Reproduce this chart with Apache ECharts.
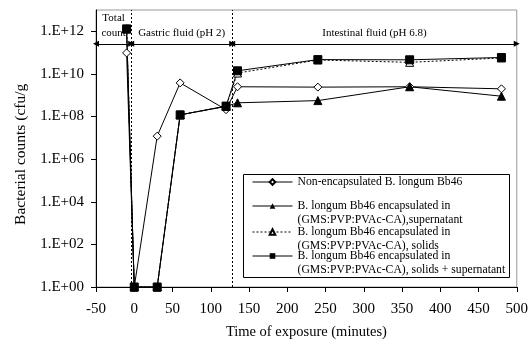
<!DOCTYPE html>
<html>
<head>
<meta charset="utf-8">
<script src="https://cdn.jsdelivr.net/npm/echarts@6/dist/echarts.min.js"></script>
<style>
html,body{margin:0;padding:0;background:#fff;}
#chart{width:531px;height:345px;}
</style>
</head>
<body>
<div id="chart"></div>
<script>
// time of exposure (minutes)
var times = [-10, 0, 30, 60, 120, 135, 240, 360, 480];
// bacterial counts (cfu/g)
var nonEncap    = [9.7e10, 1, 1.2e7, 3.8e9, 2.1e8, 2.5e9, 2.4e9, 2.5e9, 2.0e9];
var supernatant = [1.3e12, 1, 1, 1.2e8, 3.0e8, 4.4e8, 5.6e8, 2.5e9, 9.0e8];
var solids      = [1.3e12, 1, 1, 1.2e8, 3.0e8, 1.1e10, 4.5e10, 3.5e10, 5.6e10];
var solidsSuper = [1.3e12, 1, 1, 1.2e8, 3.1e8, 1.4e10, 4.7e10, 4.6e10, 5.9e10];

var seriesNames = [
  'Non-encapsulated B. longum Bb46',
  'B. longum Bb46 encapsulated in\n(GMS:PVP:PVAc-CA),supernatant',
  'B. longum Bb46 encapsulated in\n(GMS:PVP:PVAc-CA), solids',
  'B. longum Bb46 encapsulated in\n(GMS:PVP:PVAc-CA), solids + supernatant'
];
// y tick labels as powers of ten
var yTickExps = [0, 2, 4, 6, 8, 10, 12];
// phases of the experiment
var phaseBounds = [-50, -4, 128, 500];
var phaseLabels = ['Total\ncount', 'Gastric fluid (pH 2)', 'Intestinal fluid (pH 6.8)'];
var phaseArrowCount = 2.6e11;

var FONT = 'Liberation Serif';

function toLog(arr) {
  return arr.map(function (v, i) { return [times[i], Math.log10(v)]; });
}

var arrowY = Math.log10(phaseArrowCount);
var arrowData = [];
for (var i = 0; i < phaseLabels.length; i++) {
  arrowData.push([
    { name: phaseLabels[i], coord: [phaseBounds[i], arrowY] },
    { coord: [phaseBounds[i + 1], arrowY] }
  ]);
}

var lineStyle = { color: '#000', width: 1 };

var series = [
  {
    name: seriesNames[0], type: 'line', data: toLog(nonEncap),
    symbol: 'diamond', symbolSize: 8,
    itemStyle: { color: '#fff', borderColor: '#000', borderWidth: 1 },
    lineStyle: lineStyle,
    markLine: {
      silent: true, symbol: 'none',
      lineStyle: { color: '#000', width: 1, type: [2, 2] },
      label: { show: false },
      data: [{ xAxis: phaseBounds[1] }, { xAxis: phaseBounds[2] }]
    }
  },
  {
    name: seriesNames[1], type: 'line', data: toLog(supernatant),
    symbol: 'triangle', symbolSize: 8,
    itemStyle: { color: '#000', borderColor: '#000' },
    lineStyle: lineStyle,
    markLine: {
      silent: true, symbol: ['triangle', 'triangle'], symbolSize: 6,
      lineStyle: { color: '#000', width: 1, type: 'solid' },
      label: {
        show: true, position: 'middle', formatter: '{b}', distance: 3,
        color: '#000', fontFamily: FONT, fontSize: 11, lineHeight: 15
      },
      data: arrowData
    }
  },
  {
    name: seriesNames[2], type: 'line', data: toLog(solids),
    symbol: 'triangle', symbolSize: 8,
    itemStyle: { color: '#fff', borderColor: '#000', borderWidth: 1 },
    lineStyle: { color: '#000', width: 1, type: [2, 2] }
  },
  {
    name: seriesNames[3], type: 'line', data: toLog(solidsSuper),
    symbol: 'rect', symbolSize: 8,
    itemStyle: { color: '#000', borderColor: '#000' },
    lineStyle: lineStyle
  }
];

// one legend per entry so the rows can sit like the original box
var legendTops = [176, 186, 212, 236];
var legends = seriesNames.map(function (name, idx) {
  return {
    data: [name],
    left: 252, top: legendTops[idx], padding: 0,
    itemWidth: 40, itemHeight: 7,
    selectedMode: false,
    lineStyle: { width: 1 },
    // a blank first line keeps the icon level with the first text line
    formatter: function (n) {
      var parts = n.split('\n');
      if (parts.length > 1) parts.unshift(' ');
      return parts.map(function (p) { return '{t|' + p + '}'; }).join('\n');
    },
    textStyle: {
      color: '#000', fontFamily: FONT, fontSize: 11.7,
      rich: { t: { color: '#000', fontFamily: FONT, fontSize: 11.7, lineHeight: 14 } }
    }
  };
});

var option = {
  animation: false,
  grid: { left: 96, right: 14, top: 10, bottom: 57, show: true, borderColor: '#999', borderWidth: 1, backgroundColor: 'transparent' },
  xAxis: {
    type: 'value', min: -50, max: 500, interval: 50,
    name: 'Time of exposure (minutes)', nameLocation: 'middle', nameGap: 38,
    nameTextStyle: { color: '#000', fontFamily: FONT, fontSize: 14.5 },
    axisLine: { show: true, onZero: false, lineStyle: { color: '#000', width: 1 } },
    axisTick: { show: true, inside: false, length: 5, lineStyle: { color: '#000' } },
    axisLabel: { color: '#000', fontFamily: FONT, fontSize: 15, margin: 15 },
    splitLine: { show: false }
  },
  yAxis: {
    type: 'value', min: 0, max: 13, interval: 1,
    name: 'Bacterial counts (cfu/g   ', nameLocation: 'middle', nameGap: 66,
    nameTextStyle: { color: '#000', fontFamily: FONT, fontSize: 15.5 },
    axisLine: { show: true, onZero: false, lineStyle: { color: '#000', width: 1 } },
    axisTick: { show: true, inside: false, length: 5, lineStyle: { color: '#000' }, customValues: yTickExps },
    axisLabel: {
      color: '#000', fontFamily: FONT, fontSize: 15, margin: 12,
      customValues: yTickExps,
      formatter: function (v) { return '1.E+' + (v < 10 ? '0' : '') + v; }
    },
    splitLine: { show: false }
  },
  legend: legends,
  graphic: [{
    type: 'rect', left: 243, top: 174, z: 3,
    shape: { width: 266, height: 103 },
    style: { fill: '#fff', stroke: '#000', lineWidth: 1 }
  }],
  series: series
};

var chart = echarts.init(document.getElementById('chart'));
chart.setOption(option);
</script>
</body>
</html>
